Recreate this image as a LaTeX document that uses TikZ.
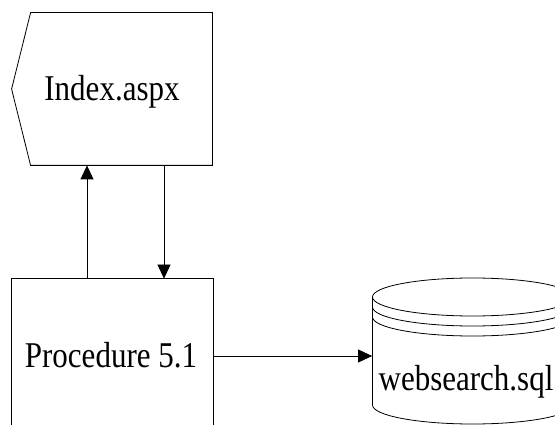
\documentclass[tikz,border=0pt]{standalone}
\usepackage{fontspec}
\setmainfont{Liberation Serif}
\usetikzlibrary{arrows.meta}
\newcommand{\stretched}[1]{\scalebox{1}[1.17]{#1}}
\begin{document}
\begin{tikzpicture}[x=1pt, y=-1pt, line width=0.8pt,
    lbl/.style={font=\fontsize{31}{37}\selectfont, inner sep=0pt, anchor=base},
    outline/.style={inner sep=0pt, minimum width=#1},
    flow/.style={-{Triangle[length=14pt, width=13pt]}}]
    \useasboundingbox (0, 0) rectangle (555, 425);
    \node[outline=200pt, minimum height=152pt] (idx) at (112, 89) {};
    \node[outline=201pt, minimum height=152pt] (proc) at (112.5, 355) {};
    \node[outline=200pt, minimum height=146pt] (db) at (472.5, 351) {};
    \draw (idx.west) -- ([xshift=19pt]idx.north west) -- (idx.north east) -- (idx.south east) -- ([xshift=19pt]idx.south west) -- cycle;
    \draw (proc.south west) -- (proc.north west) -- (proc.north east) -- (proc.south east);
    \draw (472.5, 297) ellipse[x radius=100, y radius=19];
    \draw (372.5, 307) arc[start angle=180, end angle=0, x radius=100, y radius=19];
    \draw (372.5, 317) arc[start angle=180, end angle=0, x radius=100, y radius=19];
    \draw (372.5, 297) -- (372.5, 405) arc[start angle=180, end angle=0, x radius=100, y radius=19] -- (572.5, 297);
    \node[lbl] (idxtxt) at (112, 101) {\stretched{Index.aspx}};
    \node[lbl] (proctxt) at (111, 367) {\stretched{Procedure 5.1}};
    \node[lbl] (dbtxt) at (466, 390) {\stretched{websearch.sql}};
    \draw[flow] ([xshift=-25.5pt]proc.north) -- ([xshift=-25.5pt]proc.north |- idx.south);
    \draw[flow] ([xshift=51.5pt]proc.north |- idx.south) -- ([xshift=51.5pt]proc.north);
    \draw[flow] ([yshift=-1pt]proc.east) -- ([yshift=-1pt]proc.east -| db.west);
\end{tikzpicture}
\end{document}
